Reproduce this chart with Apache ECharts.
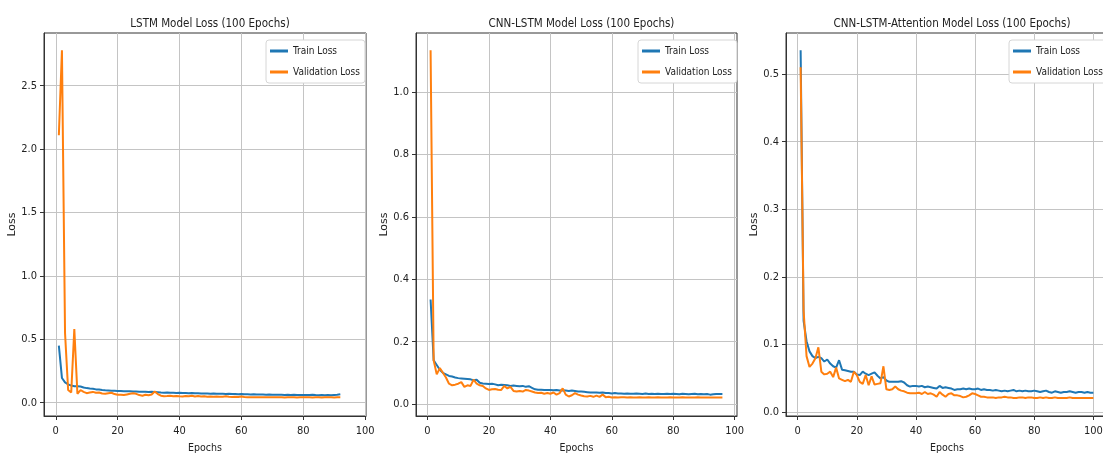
<!DOCTYPE html>
<html>
<head>
<meta charset="utf-8">
<title>Model Loss</title>
<script src="https://cdn.jsdelivr.net/npm/echarts/dist/echarts.min.js"></script>
<style>
  html, body { margin: 0; padding: 0; background: #fff; }
  #chart { width: 1103px; height: 456px; }
</style>
</head>
<body>
<div id="chart"></div>
<script>
// loss per epoch
const lstmTrain = [0.45,0.195,0.16,0.145,0.135,0.13,0.13,0.128,0.12,0.115,
  0.112,0.11,0.105,0.104,0.1,0.098,0.097,0.095,0.094,0.092,
  0.093,0.091,0.09,0.09,0.088,0.089,0.087,0.086,0.087,0.085,
  0.086,0.084,0.082,0.08,0.079,0.08,0.078,0.079,0.077,0.078,
  0.076,0.077,0.075,0.076,0.074,0.075,0.073,0.072,0.073,0.071,
  0.072,0.07,0.071,0.07,0.069,0.07,0.068,0.069,0.067,0.068,
  0.066,0.067,0.065,0.066,0.065,0.064,0.065,0.063,0.064,0.063,
  0.062,0.063,0.062,0.061,0.062,0.061,0.062,0.06,0.061,0.06,
  0.061,0.06,0.062,0.06,0.059,0.061,0.058,0.06,0.058,0.061,
  0.062,0.066];
const lstmVal = [2.11,2.78,0.55,0.1,0.08,0.58,0.07,0.1,0.085,0.075,
  0.08,0.085,0.078,0.08,0.072,0.07,0.075,0.078,0.068,0.062,
  0.063,0.06,0.065,0.07,0.075,0.07,0.06,0.055,0.062,0.058,
  0.065,0.088,0.068,0.055,0.05,0.052,0.055,0.05,0.053,0.05,
  0.048,0.052,0.05,0.055,0.049,0.052,0.048,0.05,0.047,0.049,
  0.046,0.048,0.046,0.047,0.05,0.046,0.045,0.047,0.045,0.048,
  0.044,0.042,0.043,0.042,0.043,0.042,0.043,0.042,0.043,0.042,
  0.042,0.043,0.042,0.041,0.042,0.043,0.042,0.041,0.042,0.042,
  0.043,0.042,0.041,0.042,0.042,0.041,0.042,0.043,0.042,0.041,
  0.042,0.042];

const cnnTrain = [0.335,0.14,0.125,0.11,0.1,0.095,0.09,0.088,0.085,0.083,
  0.082,0.081,0.08,0.079,0.076,0.078,0.068,0.066,0.065,0.064,
  0.065,0.063,0.06,0.062,0.061,0.06,0.058,0.059,0.058,0.057,
  0.058,0.055,0.057,0.052,0.047,0.046,0.046,0.045,0.045,0.045,
  0.044,0.045,0.043,0.044,0.043,0.042,0.043,0.042,0.04,0.04,
  0.039,0.038,0.037,0.037,0.037,0.036,0.037,0.035,0.035,0.034,
  0.035,0.034,0.034,0.033,0.034,0.033,0.033,0.034,0.033,0.032,
  0.034,0.032,0.033,0.032,0.033,0.032,0.032,0.033,0.032,0.033,
  0.032,0.031,0.033,0.032,0.031,0.032,0.033,0.031,0.032,0.031,
  0.032,0.03,0.031,0.032,0.032,0.032];
const cnnVal = [1.135,0.14,0.095,0.115,0.1,0.085,0.065,0.06,0.062,0.065,
  0.07,0.055,0.06,0.058,0.078,0.065,0.06,0.058,0.05,0.045,
  0.047,0.048,0.046,0.045,0.058,0.05,0.055,0.042,0.04,0.042,
  0.04,0.045,0.043,0.04,0.037,0.035,0.036,0.033,0.035,0.033,
  0.037,0.03,0.035,0.05,0.03,0.024,0.028,0.035,0.03,0.027,
  0.025,0.024,0.026,0.023,0.027,0.023,0.03,0.022,0.023,0.021,
  0.022,0.021,0.022,0.022,0.021,0.022,0.021,0.021,0.022,0.021,
  0.021,0.022,0.021,0.021,0.022,0.021,0.021,0.021,0.022,0.021,
  0.021,0.021,0.022,0.021,0.021,0.021,0.021,0.022,0.021,0.021,
  0.021,0.021,0.021,0.021,0.021,0.021];

const attTrain = [0.535,0.135,0.105,0.09,0.083,0.08,0.082,0.08,0.075,0.078,
  0.072,0.068,0.066,0.077,0.063,0.062,0.061,0.06,0.06,0.056,
  0.055,0.06,0.057,0.055,0.057,0.059,0.054,0.05,0.052,0.047,
  0.045,0.045,0.045,0.045,0.046,0.044,0.04,0.038,0.039,0.039,
  0.038,0.039,0.037,0.038,0.037,0.036,0.035,0.039,0.036,0.037,
  0.036,0.035,0.033,0.034,0.034,0.035,0.034,0.035,0.034,0.034,
  0.035,0.033,0.034,0.033,0.033,0.032,0.033,0.032,0.031,0.032,
  0.031,0.032,0.033,0.031,0.032,0.031,0.032,0.031,0.031,0.032,
  0.031,0.03,0.031,0.032,0.03,0.029,0.031,0.03,0.029,0.03,
  0.03,0.031,0.03,0.029,0.03,0.03,0.029,0.03,0.029,0.029];
const attVal = [0.51,0.15,0.083,0.067,0.072,0.08,0.096,0.06,0.056,0.057,
  0.06,0.052,0.066,0.05,0.048,0.046,0.048,0.045,0.06,0.055,
  0.045,0.042,0.055,0.04,0.053,0.041,0.042,0.043,0.068,0.034,
  0.033,0.034,0.038,0.034,0.032,0.031,0.029,0.028,0.028,0.028,
  0.029,0.027,0.03,0.027,0.028,0.026,0.023,0.03,0.026,0.023,
  0.027,0.028,0.025,0.025,0.024,0.022,0.023,0.025,0.028,0.027,
  0.025,0.023,0.023,0.022,0.022,0.022,0.021,0.022,0.022,0.023,
  0.022,0.022,0.021,0.021,0.022,0.022,0.021,0.022,0.022,0.021,
  0.021,0.022,0.021,0.022,0.021,0.021,0.022,0.021,0.021,0.021,
  0.021,0.022,0.021,0.021,0.021,0.021,0.021,0.021,0.021,0.021];

const titles = ['LSTM Model Loss (100 Epochs)', 'CNN-LSTM Model Loss (100 Epochs)', 'CNN-LSTM-Attention Model Loss (100 Epochs)'];
const xTicks = [0, 20, 40, 60, 80, 100];
const yTicks1 = [0, 0.5, 1.0, 1.5, 2.0, 2.5];
const yTicks2 = [0, 0.2, 0.4, 0.6, 0.8, 1.0];
const yTicks3 = [0, 0.1, 0.2, 0.3, 0.4, 0.5];

const narrow = "'Liberation Sans Narrow', 'DejaVu Sans Condensed', 'Liberation Sans', sans-serif";
const blue = '#1f77b4';
const orange = '#ff7f0e';

// panel layout (pixels) and axis ranges
const panels = [
  { left: 44, width: 322, xmin: -3.8, xmax: 100.3, ymin: -0.105, ymax: 2.916, yticks: yTicks1, train: lstmTrain, val: lstmVal, legendLeft: 266 },
  { left: 416, width: 321, xmin: -3.75, xmax: 100.75, ymin: -0.0385, ymax: 1.19, yticks: yTicks2, train: cnnTrain, val: cnnVal, legendLeft: 638 },
  { left: 786, width: 322, xmin: -3.95, xmax: 104.95, ymin: -0.0055, ymax: 0.5606, yticks: yTicks3, train: attTrain, val: attVal, legendLeft: 1009 }
];

function pairs(arr) {
  return arr.map((v, i) => [i + 1, v]);
}

const option = { animation: false, backgroundColor: '#fff', title: [], grid: [], xAxis: [], yAxis: [], legend: [], series: [] };

panels.forEach((p, i) => {
  option.title.push({
    text: titles[i],
    left: p.left + p.width / 2,
    top: 13,
    textAlign: 'center',
    textStyle: { fontFamily: narrow, fontSize: 11.5, fontWeight: 'normal', color: '#222' }
  });
  // keep the grid exactly where it is put, even if labels spill out
  option.grid.push({
    left: p.left, top: 33, width: p.width, height: 383,
    outerBoundsMode: 'none', containLabel: false,
    show: true, borderColor: '#333', borderWidth: 1, backgroundColor: 'transparent'
  });
  option.xAxis.push({
    type: 'value', gridIndex: i, min: p.xmin, max: p.xmax,
    name: 'Epochs', nameLocation: 'middle', nameGap: 27,
    nameTextStyle: { fontFamily: narrow, fontSize: 10.5, color: '#222' },
    axisLine: { show: true, onZero: false, lineStyle: { color: '#333' } },
    axisTick: { show: true, length: 4, customValues: xTicks, lineStyle: { color: '#333' } },
    axisLabel: { customValues: xTicks, margin: 10, fontFamily: narrow, fontSize: 11, color: '#222' },
    splitLine: { show: true, lineStyle: { color: '#c4c4c4', width: 1 } }
  });
  option.yAxis.push({
    type: 'value', gridIndex: i, min: p.ymin, max: p.ymax,
    name: 'Loss', nameLocation: 'middle', nameRotate: 90, nameGap: 21,
    nameTextStyle: { fontFamily: "'DejaVu Sans', sans-serif", fontSize: 11, color: '#222' },
    axisLine: { show: true, onZero: false, lineStyle: { color: '#333' } },
    axisTick: { show: true, length: 4, customValues: p.yticks, lineStyle: { color: '#333' } },
    axisLabel: { customValues: p.yticks, margin: 7, fontFamily: narrow, fontSize: 11, color: '#222',
      formatter: v => v.toFixed(1) },
    splitLine: { show: true, lineStyle: { color: '#c4c4c4', width: 1 } }
  });
  option.legend.push({
    left: p.legendLeft, top: 40, orient: 'vertical',
    data: ['Train Loss', 'Validation Loss'],
    icon: 'rect', itemWidth: 18, itemHeight: 3, itemGap: 9,
    padding: [5, 5, 5, 4],
    backgroundColor: '#fff', borderColor: '#d6d6d6', borderWidth: 1, borderRadius: 3,
    textStyle: { fontFamily: narrow, fontSize: 10, color: '#222', lineHeight: 12 }
  });
  option.series.push({
    name: 'Train Loss', type: 'line', xAxisIndex: i, yAxisIndex: i,
    data: pairs(p.train), showSymbol: false, color: blue,
    lineStyle: { color: blue, width: 2 }
  });
  option.series.push({
    name: 'Validation Loss', type: 'line', xAxisIndex: i, yAxisIndex: i,
    data: pairs(p.val), showSymbol: false, color: orange,
    lineStyle: { color: orange, width: 2 }
  });
});

const chart = echarts.init(document.getElementById('chart'));
chart.setOption(option);
</script>
</body>
</html>
